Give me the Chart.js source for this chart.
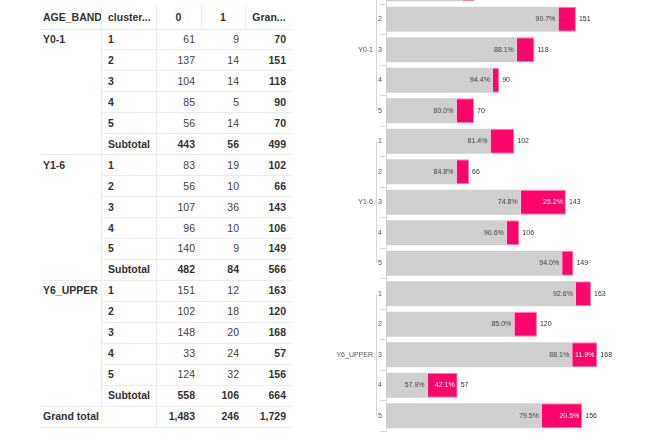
<!DOCTYPE html>
<html><head><meta charset="utf-8">
<script src="https://cdn.jsdelivr.net/npm/chart.js@4/dist/chart.umd.min.js"></script>
<style>
html,body{margin:0;padding:0;background:#fff;width:652px;height:441px;overflow:hidden;position:relative;font-family:"Liberation Sans",Arial,sans-serif;}
#tbl{position:absolute;left:0;top:0;width:330px;height:441px;}
.c{position:absolute;font-size:10.5px;color:#333;white-space:nowrap;line-height:20px;height:20px;}
.b{font-weight:bold;}
.hl{position:absolute;height:1px;background:#ececec;}
.vl{position:absolute;width:1px;background:#ececec;}
#wrap{position:absolute;left:330px;top:-40px;width:322px;height:481px;}
</style></head><body>
<div id="tbl"></div>
<div id="wrap"><canvas id="ch" width="322" height="481"></canvas></div>
<script>
const ageBands = ["Y0-1", "Y1-6", "Y6_UPPER"];
const clusters = ["1", "2", "3", "4", "5"];
const count0 = [61, 137, 104, 85, 56, 83, 56, 107, 96, 140, 151, 102, 148, 33, 124];
const count1 = [9, 14, 14, 5, 14, 19, 10, 36, 10, 9, 12, 18, 20, 24, 32];
const tableHeaders = ["AGE_BAND", "cluster...", "0", "1", "Gran..."];
const subtotalLabel = "Subtotal";
const grandTotalLabel = "Grand total";

const fmt = n => n.toLocaleString('en-US');
const totals = count0.map((v, i) => v + count1[i]);

// ---------- table ----------
const tbl = document.getElementById('tbl');
function txt(t, x, y, align, bold, color) {
  const d = document.createElement('div');
  d.className = 'c' + (bold ? ' b' : '');
  d.textContent = t;
  d.style.top = (y - 10) + 'px';
  if (color) d.style.color = color;
  if (align === 'right') { d.style.right = (330 - x) + 'px'; }
  else if (align === 'center') { d.style.left = (x - 40) + 'px'; d.style.width = '80px'; d.style.textAlign = 'center'; }
  else { d.style.left = x + 'px'; }
  tbl.appendChild(d);
}
function hl(x1, x2, y) { const d = document.createElement('div'); d.className = 'hl'; d.style.left = x1 + 'px'; d.style.width = (x2 - x1) + 'px'; d.style.top = Math.round(y) + 'px'; tbl.appendChild(d); }
function vl(x, y1, y2) { const d = document.createElement('div'); d.className = 'vl'; d.style.left = x + 'px'; d.style.top = Math.round(y1) + 'px'; d.style.height = Math.round(y2 - y1) + 'px'; tbl.appendChild(d); }

const colL = [40, 101, 156, 201, 245, 292];
const rowTop = 28.5, rowH = 20.95;
const numColor = '#444';
// header
txt(tableHeaders[0], 43, 17, 'left', true);
txt(tableHeaders[1], 108, 17, 'left', true);
txt(tableHeaders[2], 178.5, 17, 'center', true);
txt(tableHeaders[3], 223, 17, 'center', true);
txt(tableHeaders[4], 269, 17, 'center', true);
for (let k = 1; k < 5; k++) vl(colL[k], 5, rowTop);
hl(40, 292, rowTop);
let r = 0;
ageBands.forEach((g, gi) => {
  let s0 = 0, s1 = 0;
  clusters.forEach((c, ci) => {
    const i = gi * clusters.length + ci;
    const yc = rowTop + rowH * r + rowH / 2;
    if (ci === 0) txt(g, 43, yc, 'left', true);
    txt(c, 108, yc, 'left', true);
    txt(fmt(count0[i]), 195, yc, 'right', false, numColor);
    txt(fmt(count1[i]), 239, yc, 'right', false, numColor);
    txt(fmt(totals[i]), 286, yc, 'right', true);
    s0 += count0[i]; s1 += count1[i];
    r++;
    hl(101, 292, rowTop + rowH * r);
  });
  const yc = rowTop + rowH * r + rowH / 2;
  txt(subtotalLabel, 108, yc, 'left', true);
  txt(fmt(s0), 195, yc, 'right', true);
  txt(fmt(s1), 239, yc, 'right', true);
  txt(fmt(s0 + s1), 286, yc, 'right', true);
  r++;
  hl(40, 292, rowTop + rowH * r);
});
{
  const yc = rowTop + rowH * r + rowH / 2;
  const g0 = count0.reduce((a, b) => a + b, 0), g1 = count1.reduce((a, b) => a + b, 0);
  txt(grandTotalLabel, 43, yc, 'left', true);
  txt(fmt(g0), 195, yc, 'right', true);
  txt(fmt(g1), 239, yc, 'right', true);
  txt(fmt(g0 + g1), 286, yc, 'right', true);
  vl(101, rowTop, rowTop + rowH * r);
  r++;
  hl(40, 292, rowTop + rowH * r);
  vl(156, rowTop, rowTop + rowH * r);
}

// ---------- chart ----------
const labels = [];
ageBands.forEach(() => clusters.forEach(c => labels.push(c)));
const grayColor = '#cfcfcf', pinkColor = '#ff046b';
const FONT = '"Liberation Sans", Arial, sans-serif';

const labelPlugin = {
  id: 'labelsAndGroups',
  afterDraw(chart) {
    const ctx = chart.ctx, y = chart.scales.y, x = chart.scales.x;
    ctx.save();
    ctx.textBaseline = 'middle';
    ctx.font = '7px ' + FONT;
    ageBands.forEach((g, gi) => {
      const first = gi * clusters.length, last = first + clusters.length - 1;
      const y1 = y.getPixelForValue(first), y2 = y.getPixelForValue(last);
      ctx.strokeStyle = '#d6d6d6'; ctx.lineWidth = 1;
      ctx.beginPath(); ctx.moveTo(46.5, y1); ctx.lineTo(46.5, y2); ctx.stroke();
      ctx.fillStyle = '#555'; ctx.textAlign = 'right';
      ctx.fillText(g, 43, y.getPixelForValue(first + 2));
    });
    count0.forEach((v, i) => {
      const yc = y.getPixelForValue(i);
      const t = totals[i];
      const xe0 = x.getPixelForValue(v), xe1 = x.getPixelForValue(t);
      ctx.textAlign = 'right'; ctx.fillStyle = '#444';
      ctx.fillText((v / t * 100).toFixed(1) + '%', xe0 - 3, yc);
      if (count1[i] >= 20) {
        ctx.fillStyle = '#ffffff';
        ctx.fillText((count1[i] / t * 100).toFixed(1) + '%', xe1 - 3, yc);
      }
      ctx.textAlign = 'left'; ctx.fillStyle = '#333';
      ctx.fillText(String(t), xe1 + 3, yc);
    });
    ctx.restore();
  }
};

new Chart(document.getElementById('ch'), {
  type: 'bar',
  data: {
    labels: labels,
    datasets: [
      { label: '0', data: count0, backgroundColor: grayColor, borderWidth: 0 },
      { label: '1', data: count1, backgroundColor: pinkColor, borderColor: '#ff7eaf', borderWidth: 1 }
    ]
  },
  options: {
    indexAxis: 'y',
    responsive: false,
    animation: false,
    devicePixelRatio: 1,
    layout: { padding: { left: 0, right: 14.4, top: 13.5, bottom: 10 } },
    datasets: { bar: { categoryPercentage: 1, barPercentage: 0.82 } },
    plugins: { legend: { display: false }, tooltip: { enabled: false } },
    scales: {
      x: { stacked: true, display: false, min: 0, max: 200 },
      y: {
        stacked: true,
        grid: { display: true, drawOnChartArea: false, tickLength: 6, color: '#d9d9d9', offset: true },
        border: { display: true, color: '#d9d9d9' },
        ticks: { font: { size: 7, family: FONT }, color: '#555', padding: -2 },
        afterFit(s) { s.width = 56; }
      }
    }
  },
  plugins: [labelPlugin]
});
</script>
</body></html>
